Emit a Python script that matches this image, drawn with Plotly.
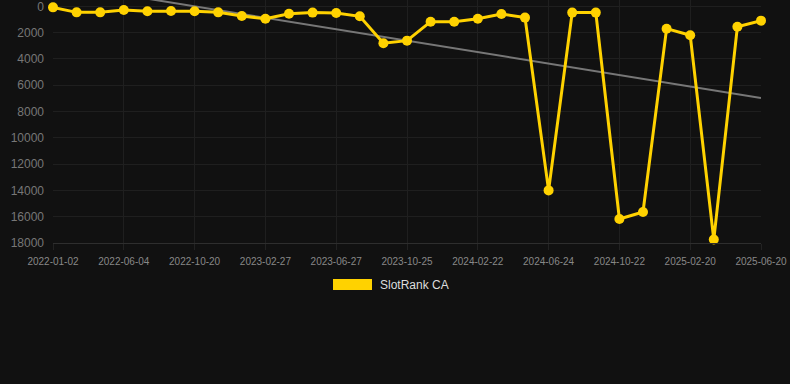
import plotly.graph_objects as go

dates = ["2022-01-02", "2022-02-22", "2022-04-13", "2022-06-04", "2022-07-20", "2022-09-04",
         "2022-10-20", "2022-12-03", "2023-01-15", "2023-02-27", "2023-04-07", "2023-05-17",
         "2023-06-27", "2023-08-06", "2023-09-15", "2023-10-25", "2023-12-04", "2024-01-13",
         "2024-02-22", "2024-04-02", "2024-05-13", "2024-06-24", "2024-08-02", "2024-09-12",
         "2024-10-22", "2024-12-01", "2025-01-10", "2025-02-20", "2025-04-01", "2025-05-10",
         "2025-06-20"]
ranks = [80, 460, 460, 280, 380, 360, 380, 460, 740, 940, 560, 480, 510, 760, 2810, 2610,
         1170, 1170, 940, 580, 860, 14000, 480, 480, 16170, 15640, 1700, 2200, 17740, 1550, 1090]
trend_values = [-1740, 6970]
tick_labels = dates[::3]
y_ticks = [0, 2000, 4000, 6000, 8000, 10000, 12000, 14000, 16000, 18000]
series_name = "SlotRank CA"

fig = go.Figure()
fig.add_trace(go.Scatter(
    x=[dates[0], dates[-1]], y=trend_values, mode="lines",
    line=dict(color="#777777", width=2), showlegend=False, hoverinfo="skip"))
fig.add_trace(go.Scatter(
    x=dates, y=ranks, mode="lines+markers", name=series_name,
    line=dict(color="#FFD200", width=3),
    marker=dict(color="#FFD200", size=10), showlegend=False, cliponaxis=False))

W, H = 790, 384
l, r, t, b = 53, 29, 0, 141
fig.update_layout(
    width=W, height=H,
    margin=dict(l=l, r=r, t=t, b=b),
    paper_bgcolor="#111111", plot_bgcolor="#111111",
    font=dict(family="Liberation Sans, Arial, sans-serif", color="#888888"),
    showlegend=False,
)
fig.update_xaxes(
    type="category", categoryorder="array", categoryarray=dates,
    range=[0, len(dates) - 1],
    tickmode="array", tickvals=tick_labels, ticktext=tick_labels,
    tickfont=dict(size=10, color="#888888"),
    showgrid=True, gridcolor="#1f1f1f", gridwidth=1,
    zeroline=False, showline=True, linecolor="#2e2e2e",
    ticks="outside", ticklen=6, tickcolor="#222222",
    ticklabelstandoff=3, ticklabeloverflow="allow",
)
fig.update_yaxes(
    range=[18000, -480], tickmode="array", tickvals=y_ticks,
    ticktext=[str(v) for v in y_ticks],
    tickfont=dict(size=12, color="#777777"),
    showgrid=True, gridcolor="#1f1f1f", gridwidth=1, zeroline=False,
    ticklabelstandoff=8, ticklabeloverflow="allow",
)

# legend drawn as swatch + text
pw = W - l - r
ph = H - t - b
def px_x(px):
    return (px - l) / pw
def px_y(py):
    return 1 - (py - t) / ph
fig.add_shape(type="rect", xref="paper", yref="paper",
              x0=px_x(333), x1=px_x(372), y0=px_y(290), y1=px_y(279),
              fillcolor="#FFD200", line=dict(width=0))
fig.add_annotation(xref="paper", yref="paper", x=px_x(378), y=px_y(285),
                   xanchor="left", yanchor="middle", showarrow=False,
                   text=series_name, font=dict(size=12, color="#dddddd"))

fig.write_html("out.html", config={"displayModeBar": False},
               post_script="document.body.style.margin='0';document.body.style.background='#111111';")
